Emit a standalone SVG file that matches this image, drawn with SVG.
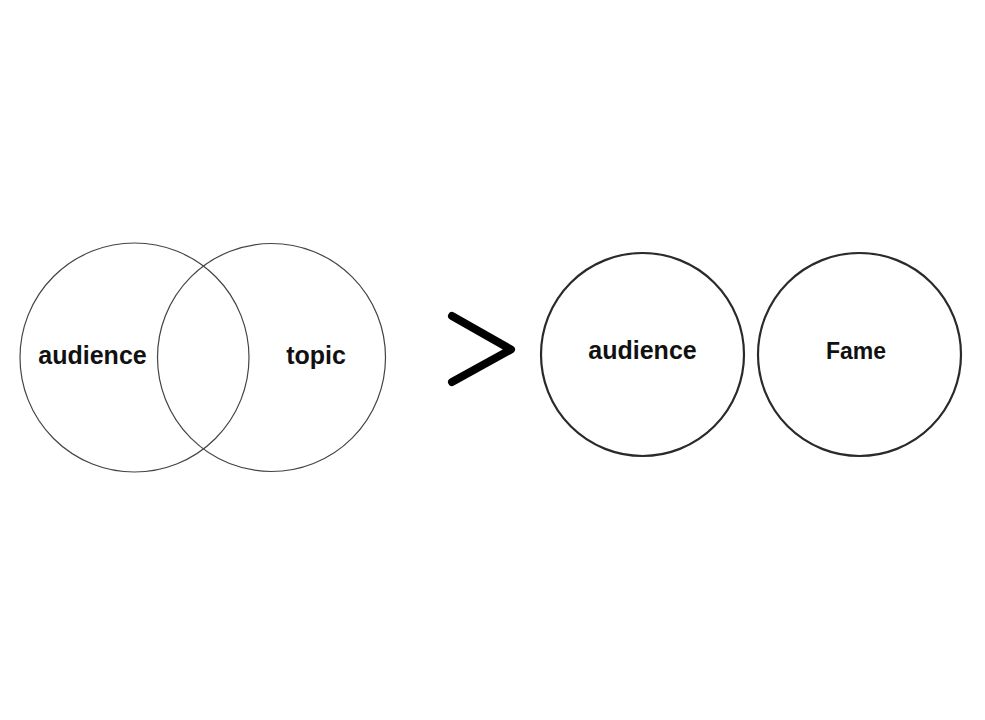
<svg xmlns="http://www.w3.org/2000/svg" width="985" height="720" viewBox="0 0 985 720">
<style>
.thin{fill:none;stroke:#444;stroke-width:1.2}
.thick{fill:none;stroke:#2a2a2a;stroke-width:2.2}
.lbl{font-family:"Liberation Sans",Arial,sans-serif;font-weight:bold;font-size:25px;fill:#111;text-anchor:middle}
</style>
<rect width="985" height="720" fill="#fff"/>
<g id="venn-audience"><circle class="thin" cx="134.5" cy="357.5" r="114.5"/><text class="lbl" x="92.5" y="364">audience</text></g>
<g id="venn-topic"><circle class="thin" cx="271.5" cy="357.5" r="114"/><text class="lbl" x="316" y="364">topic</text></g>
<g id="connectors"><polyline points="452,316 511,349.5 452,382" fill="none" stroke="#000" stroke-width="8" stroke-linecap="round" stroke-linejoin="round"/></g>
<g id="audience"><circle class="thick" cx="642.5" cy="354.5" r="101.5"/><text class="lbl" x="642.5" y="359">audience</text></g>
<g id="fame"><circle class="thick" cx="859.5" cy="354.5" r="101.5"/><text class="lbl" x="856" y="359" style="font-size:23px">Fame</text></g>
</svg>
